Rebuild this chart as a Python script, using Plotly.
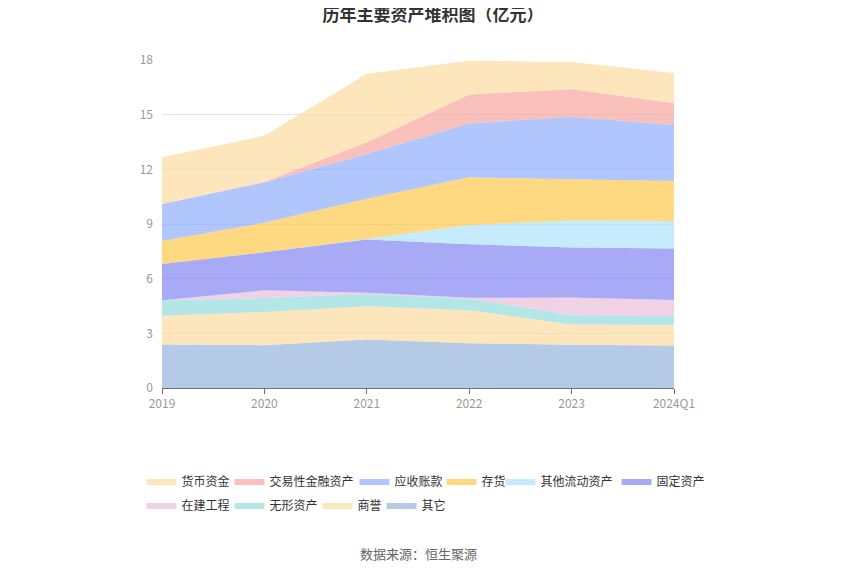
import plotly.graph_objects as go

years = ["2019", "2020", "2021", "2022", "2023", "2024Q1"]

# 亿元
huobi = [2.56, 2.54, 3.77, 1.86, 1.48, 1.67]        # 货币资金
jiaoyi = [0.0, 0.02, 0.64, 1.58, 1.52, 1.19]        # 交易性金融资产
yingshou = [2.03, 2.22, 2.45, 2.96, 3.44, 3.07]     # 应收账款
cunhuo = [1.26, 1.62, 2.22, 2.61, 2.26, 2.20]       # 存货
qitaliudong = [0.0, 0.0, 0.02, 1.06, 1.48, 1.51]    # 其他流动资产
guding = [2.00, 2.09, 2.92, 2.94, 2.74, 2.82]       # 固定资产
zaijian = [0.0, 0.42, 0.07, 0.05, 0.97, 0.89]       # 在建工程
wuxing = [0.85, 0.77, 0.68, 0.64, 0.51, 0.47]       # 无形资产
shangyu = [1.57, 1.82, 1.82, 1.80, 1.12, 1.14]      # 商誉
qita = [2.39, 2.35, 2.66, 2.46, 2.37, 2.33]         # 其它

# bottom of the stack first: name, values, colour, legend swatch (page px x, row)
series = [
    ("其它", qita, "142,174,217", (388, 1)),
    ("商誉", shangyu, "253,216,152", (324, 1)),
    ("无形资产", wuxing, "138,216,216", (236, 1)),
    ("在建工程", zaijian, "232,185,217", (148, 1)),
    ("固定资产", guding, "123,124,240", (623, 0)),
    ("其他流动资产", qitaliudong, "168,225,251", (507, 0)),
    ("存货", cunhuo, "254,196,61", (448, 0)),
    ("应收账款", yingshou, "137,168,253", (361, 0)),
    ("交易性金融资产", jiaoyi, "248,160,152", (236, 0)),
    ("货币资金", huobi, "253,216,152", (148, 0)),
]

# the page adds an 8px body margin, so everything is shifted by 8
ML, MT, PW, PH = 154, 52, 512, 328
row_y = [-0.2835, -0.357]

fig = go.Figure()
legends = {}
for k, (name, vals, rgb, (sx, row)) in enumerate(series):
    leg = "legend" if k == 0 else "legend%d" % (k + 1)
    fig.add_trace(go.Scatter(
        x=years, y=vals, name=name,
        mode="lines", stackgroup="one",
        line=dict(width=0, color="rgb(%s)" % rgb),
        fillcolor="rgba(%s,0.65)" % rgb,
        legend=leg,
    ))
    legends[leg] = dict(orientation="h", x=(sx - 14.5 - ML) / PW, xanchor="left",
                        y=row_y[row], yanchor="middle",
                        font=dict(size=12, color="#333"), itemwidth=30,
                        bgcolor="rgba(0,0,0,0)")

fig.update_layout(
    width=850, height=575,
    paper_bgcolor="white", plot_bgcolor="white",
    margin=dict(l=ML, r=850 - ML - PW, t=MT, b=575 - MT - PH),
    font=dict(family="Noto Sans CJK SC", size=12, color="#666"),
    title=dict(text="<b>历年主要资产堆积图（亿元）</b>", x=0.5, xanchor="center",
               y=1, yanchor="top", pad=dict(t=1),
               font=dict(size=17, color="#333")),
    showlegend=True,
    xaxis=dict(type="category", range=[0, len(years) - 1], showgrid=False,
               showline=True, linecolor="#6E7079", ticks="outside", ticklen=5,
               tickcolor="#6E7079", tickfont=dict(color="#999", size=12)),
    yaxis=dict(range=[0, 18], dtick=3, showgrid=True, gridcolor="#E0E6F1",
               zeroline=False, showline=False, tickfont=dict(color="#999", size=12),
               ticklabelstandoff=8),
    annotations=[dict(text="数据来源：恒生聚源", x=0.5, xref="paper", xanchor="center",
                      y=-0.506, yref="paper", yanchor="middle", showarrow=False,
                      font=dict(size=13, color="#666"))],
    **legends,
)

fig.write_html("out.html")
